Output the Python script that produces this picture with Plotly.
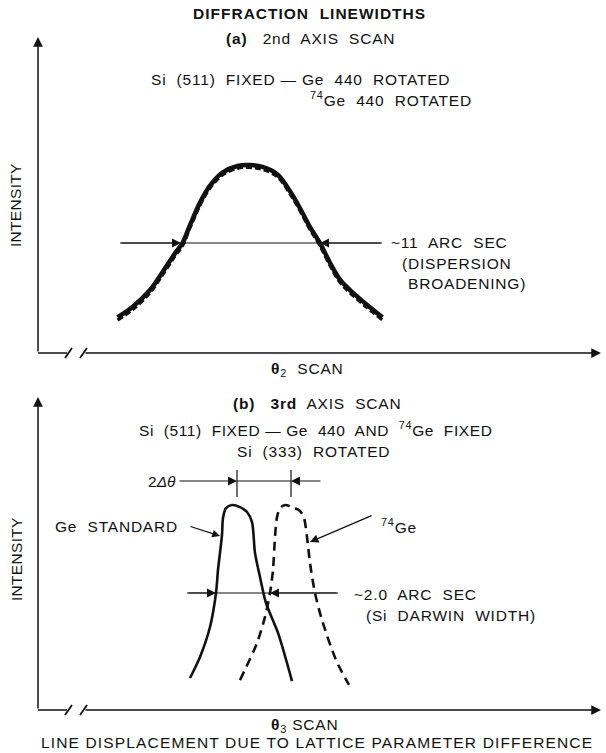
import plotly.graph_objects as go

W, H = 606, 753

# ---------------- data ----------------
# Panel (a): 2nd-axis scan, theta2 in arc sec about the peak, normalised intensity
a_theta = [-10.6, -9.4, -8.0, -7.0, -6.0, -5.4, -4.8, -4.0, -3.2, -2.2, -1.0, 0.0,
           1.0, 2.2, 3.2, 4.0, 4.8, 5.6, 6.4, 7.2, 8.0, 9.2, 10.6]
a_ge = [0.19, 0.245, 0.335, 0.43, 0.53, 0.585, 0.68, 0.80, 0.89, 0.96, 0.995, 1.0,
        0.99, 0.95, 0.86, 0.77, 0.67, 0.585, 0.48, 0.39, 0.335, 0.265, 0.19]
a_ge74 = [0.175, 0.23, 0.32, 0.415, 0.515, 0.57, 0.665, 0.785, 0.877, 0.947, 0.982, 0.987,
          0.977, 0.937, 0.847, 0.757, 0.657, 0.57, 0.465, 0.375, 0.32, 0.25, 0.175]

# Panel (b): 3rd-axis scan, theta3 in arc sec, normalised intensity
b_std_theta = [-1.68, -1.28, -0.88, -0.64, -0.56, -0.40, -0.36, -0.24, 0.0, 0.32, 0.60,
               0.80, 0.92, 1.12, 1.36, 1.84, 2.40]
b_std_int = [0.156, 0.259, 0.405, 0.571, 0.683, 0.854, 0.937, 0.985, 1.0, 0.990, 0.966,
             0.917, 0.766, 0.649, 0.522, 0.376, 0.141]
b_74_theta = [0.32, 1.00, 1.32, 1.52, 1.64, 1.72, 1.80, 1.92, 2.12, 2.40, 2.72, 2.88,
              3.00, 3.12, 3.32, 3.60, 4.16, 4.68]
b_74_int = [0.146, 0.327, 0.454, 0.571, 0.683, 0.844, 0.941, 0.985, 1.0, 0.990, 0.971,
            0.937, 0.844, 0.717, 0.571, 0.439, 0.244, 0.122]

FONT = "Liberation Sans, Arial, Helvetica, sans-serif"
INK = "#111111"
FS = 15.5

fig = go.Figure()

# panel (a) curves
fig.add_trace(go.Scatter(x=a_theta, y=a_ge, mode="lines", xaxis="x", yaxis="y",
                         line=dict(color=INK, width=4.5, shape="spline", smoothing=1.0)))
fig.add_trace(go.Scatter(x=a_theta, y=a_ge74, mode="lines", xaxis="x", yaxis="y",
                         line=dict(color=INK, width=3.2, dash="6px,3px", shape="spline", smoothing=1.0)))
# panel (b) curves
fig.add_trace(go.Scatter(x=b_std_theta, y=b_std_int, mode="lines", xaxis="x2", yaxis="y2",
                         line=dict(color=INK, width=2.6, shape="spline", smoothing=0.8)))
fig.add_trace(go.Scatter(x=b_74_theta, y=b_74_int, mode="lines", xaxis="x2", yaxis="y2",
                         line=dict(color=INK, width=2.6, dash="9px,6px", shape="spline", smoothing=0.8)))


def px(x):
    return x / W


def py(y):
    return 1 - y / H


hidden = dict(visible=False, showgrid=False, zeroline=False, fixedrange=True)
fig.update_layout(
    width=W, height=H, autosize=False,
    margin=dict(l=0, r=0, t=0, b=0),
    paper_bgcolor="white", plot_bgcolor="rgba(0,0,0,0)",
    showlegend=False,
    xaxis=dict(domain=[px(38), px(600)], range=[-16.96, 28.0], anchor="y", **hidden),
    yaxis=dict(domain=[py(353), py(37)], range=[0, 1.681], anchor="x", **hidden),
    xaxis2=dict(domain=[px(38), px(600)], range=[-7.76, 14.72], anchor="y2", **hidden),
    yaxis2=dict(domain=[py(710), py(397)], range=[0, 1.527], anchor="x2", **hidden),
)


def line(x0, y0, x1, y1, w=1.3):
    fig.add_shape(type="line", xref="paper", yref="paper",
                  x0=px(x0), y0=py(y0), x1=px(x1), y1=py(y1),
                  line=dict(color=INK, width=w))


def arrow(tip, tail, w=1.3, size=1.4):
    fig.add_annotation(x=px(tip[0]), y=py(tip[1]), xref="paper", yref="paper",
                       ax=tail[0] - tip[0], ay=tail[1] - tip[1],
                       axref="pixel", ayref="pixel", text="", showarrow=True,
                       arrowhead=2, arrowsize=size, arrowwidth=w, arrowcolor=INK)


def label(text, x, y, anchor="left", size=FS, angle=0, spacing=0.8):
    if spacing:
        text = '<span style="letter-spacing:%.2fpx">%s</span>' % (spacing, text)
    fig.add_annotation(x=px(x), y=py(y), xref="paper", yref="paper", text=text,
                       showarrow=False, xanchor=anchor, yanchor="middle", textangle=angle,
                       borderpad=0,
                       font=dict(family=FONT, size=size, color=INK))


# ---------- axes drawn as arrows with break marks ----------
for base, top in ((353, 37), (710, 397)):
    arrow((38, top), (38, base), w=1.5, size=1.3)
    line(38, base, 67, base, 1.5)
    line(65, base + 5, 72, base - 5, 1.8)
    line(80, base + 5, 87, base - 5, 1.8)
    arrow((601, base), (84, base), w=1.5, size=1.3)

# ---------- panel (a) texts ----------
label("<b>DIFFRACTION  LINEWIDTHS</b>", 192, 14, "left", FS, 0, 1.0)
label("<b>(a)</b>   2nd  AXIS  SCAN", 225, 39, "left")
label("Si  (511)  FIXED — Ge  440  ROTATED", 150, 79, "left")
label("<sup>74</sup>Ge  440  ROTATED", 309, 99, "left")
label("INTENSITY", 16, 205, "center", FS, -90, 0.3)
label("~11  ARC  SEC", 390, 243, "left")
label("(DISPERSION", 401, 263, "left")
label("BROADENING)", 407, 283, "left")
label("<b>θ</b><sub>2</sub>  SCAN", 270, 369, "left")

# FWHM marker (a)
line(120, 243, 382, 243, 1.2)
arrow((181, 243), (120, 243), w=1.2, size=1.5)
arrow((320, 243), (382, 243), w=1.2, size=1.5)

# ---------- panel (b) texts ----------
label("<b>(b)</b>   <b>3rd</b>  AXIS  SCAN", 232, 403, "left")
label("Si  (511)  FIXED — Ge  440  AND  <sup>74</sup>Ge  FIXED", 138, 429, "left", FS, 0, 0.6)
label("Si  (333)  ROTATED", 236, 451, "left")
label("INTENSITY", 16, 559, "center", FS, -90, 0.3)
label("2<i>Δθ</i>", 177, 481, "right", FS, 0, 0)
label("Ge  STANDARD", 54, 526, "left")
label("<sup>74</sup>Ge", 380, 526, "left")
label("~2.0  ARC  SEC", 353, 594, "left")
label("(Si  DARWIN  WIDTH)", 365, 615, "left")
label("<b>θ</b><sub>3</sub> SCAN", 270, 725, "left")
label("LINE DISPLACEMENT DUE TO LATTICE PARAMETER DIFFERENCE", 40, 742, "left", FS, 0, 1.15)

# 2Δθ marker
arrow((237, 481), (178, 481), w=1.2, size=1.5)
line(237, 470, 237, 497, 1.2)
line(237, 481, 291, 481, 1.2)
line(291, 470, 291, 497, 1.2)
arrow((291, 481), (322, 481), w=1.2, size=1.5)

# leaders
arrow((220, 536), (189, 526), w=1.2, size=1.3)
arrow((310, 542), (373, 515), w=1.2, size=1.4)

# FWHM marker (b)
line(187, 593, 338, 593, 1.2)
arrow((216, 593), (187, 593), w=1.2, size=1.5)
arrow((270, 593), (338, 593), w=1.2, size=1.5)

# remove the default 8px page margin so the 606x753 figure fills the window exactly
fig.write_html("out.html", config={"displayModeBar": False},
               post_script="document.body.style.margin='0';document.body.style.overflow='hidden';")
